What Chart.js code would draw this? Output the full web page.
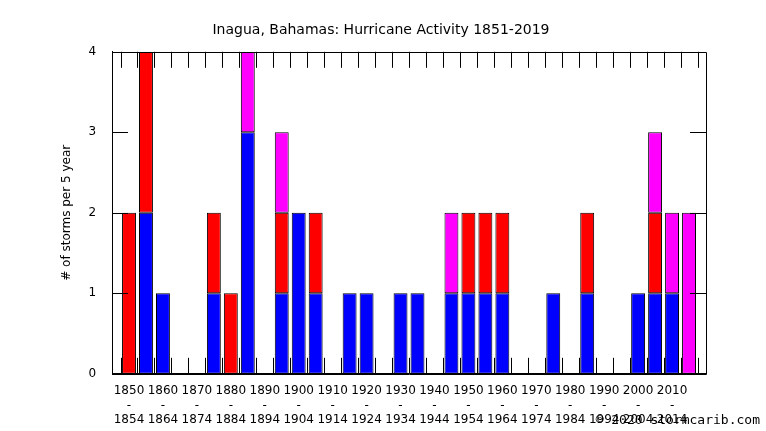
<!DOCTYPE html>
<html><head><meta charset="utf-8">
<script src="https://cdn.jsdelivr.net/npm/chart.js@4"></script>
<style>body{margin:0;background:#fff}#wrap{width:766px;height:431px;position:relative}
#foot{position:absolute;right:6px;bottom:4px;font:13px "DejaVu Sans Mono",monospace;color:#000}</style>
</head><body><div id="wrap"><canvas id="c" width="766" height="431"></canvas><div id="foot">© 2020 stormcarib.com</div></div>
<script>
// 5-year bins 1850-1854 .. 2015-2019, padded with an empty slot each side
var startYears = ['', 1850,1855,1860,1865,1870,1875,1880,1885,1890,1895,1900,1905,1910,1915,1920,1925,1930,1935,1940,1945,1950,1955,1960,1965,1970,1975,1980,1985,1990,1995,2000,2005,2010,2015, ''];
var blue    = [0, 0,2,1,0,0,1,0,3,0,1,2,1,0,1,1,0,1,1,0,1,1,1,1,0,0,1,0,1,0,0,1,1,1,0, 0];
var red     = [0, 2,2,0,0,0,1,1,0,0,1,0,1,0,0,0,0,0,0,0,0,1,1,1,0,0,0,0,1,0,0,0,1,0,0, 0];
var magenta = [0, 0,0,0,0,0,0,0,1,0,1,0,0,0,0,0,0,0,0,0,1,0,0,0,0,0,0,0,0,0,0,0,1,1,2, 0];
var yTicks = [0,1,2,3,4];

var innerTicks = {
  id: 'innerTicks',
  afterDraw: function(chart) {
    var c = chart.ctx, a = chart.chartArea, x = chart.scales.x, y = chart.scales.y;
    c.save(); c.strokeStyle = '#000'; c.lineWidth = 1; c.beginPath();
    c.rect(Math.round(a.left) + 0.5, Math.round(a.top) + 0.5, Math.round(a.right - a.left), Math.round(a.bottom - a.top));
    for (var i = 0; i < startYears.length - 1; i++) {
      var px = Math.round((x.getPixelForValue(i) + x.getPixelForValue(i + 1)) / 2) + 0.5;
      c.moveTo(px, a.top); c.lineTo(px, a.top + 16);
      c.moveTo(px, a.bottom); c.lineTo(px, a.bottom - 16);
    }
    yTicks.forEach(function(v) {
      var py = Math.round(y.getPixelForValue(v)) + 0.5;
      c.moveTo(a.left, py); c.lineTo(a.left + 16, py);
      c.moveTo(a.right, py); c.lineTo(a.right - 16, py);
    });
    c.stroke(); c.restore();
  }
};

function ds(data, color) {
  return { data: data, backgroundColor: color, borderColor: '#000', borderWidth: 1,
           barPercentage: 0.82, categoryPercentage: 1, borderSkipped: false };
}

new Chart(document.getElementById('c'), {
  type: 'bar',
  data: { labels: startYears, datasets: [ds(blue, '#0000ff'), ds(red, '#ff0000'), ds(magenta, '#ff00ff')] },
  plugins: [innerTicks],
  options: {
    responsive: false, animation: false,
    layout: { padding: { left: 56, right: 60, top: 4, bottom: 2 } },
    plugins: {
      legend: { display: false }, tooltip: { enabled: false },
      title: { display: true, text: 'Inagua, Bahamas: Hurricane Activity 1851-2019', color: '#000',
               font: { family: 'DejaVu Sans', size: 14, weight: 'normal' }, padding: { top: 18, bottom: 13 } }
    },
    scales: {
      x: {
        stacked: true, offset: false,
        grid: { display: false },
        border: { display: true, color: '#000' },
        ticks: {
          autoSkip: false, maxRotation: 0, color: '#000', font: { family: 'DejaVu Sans', size: 12 }, padding: 2,
          callback: function(v, i) {
            var s = startYears[i];
            if (s === '' || (s - 1850) % 10 !== 0) return '';
            return [String(s), '-', String(s + 4)];
          }
        }
      },
      y: {
        stacked: true, min: 0, max: 4,
        grid: { display: false },
        border: { display: true, color: '#000' },
        ticks: { stepSize: 1, color: '#000', font: { family: 'DejaVu Sans', size: 12 }, padding: 8 },
        title: { display: true, text: '# of storms per 5 year', color: '#000', font: { family: 'DejaVu Sans', size: 12 }, padding: { bottom: 6 } }
      }
    }
  }
});
</script></body></html>
